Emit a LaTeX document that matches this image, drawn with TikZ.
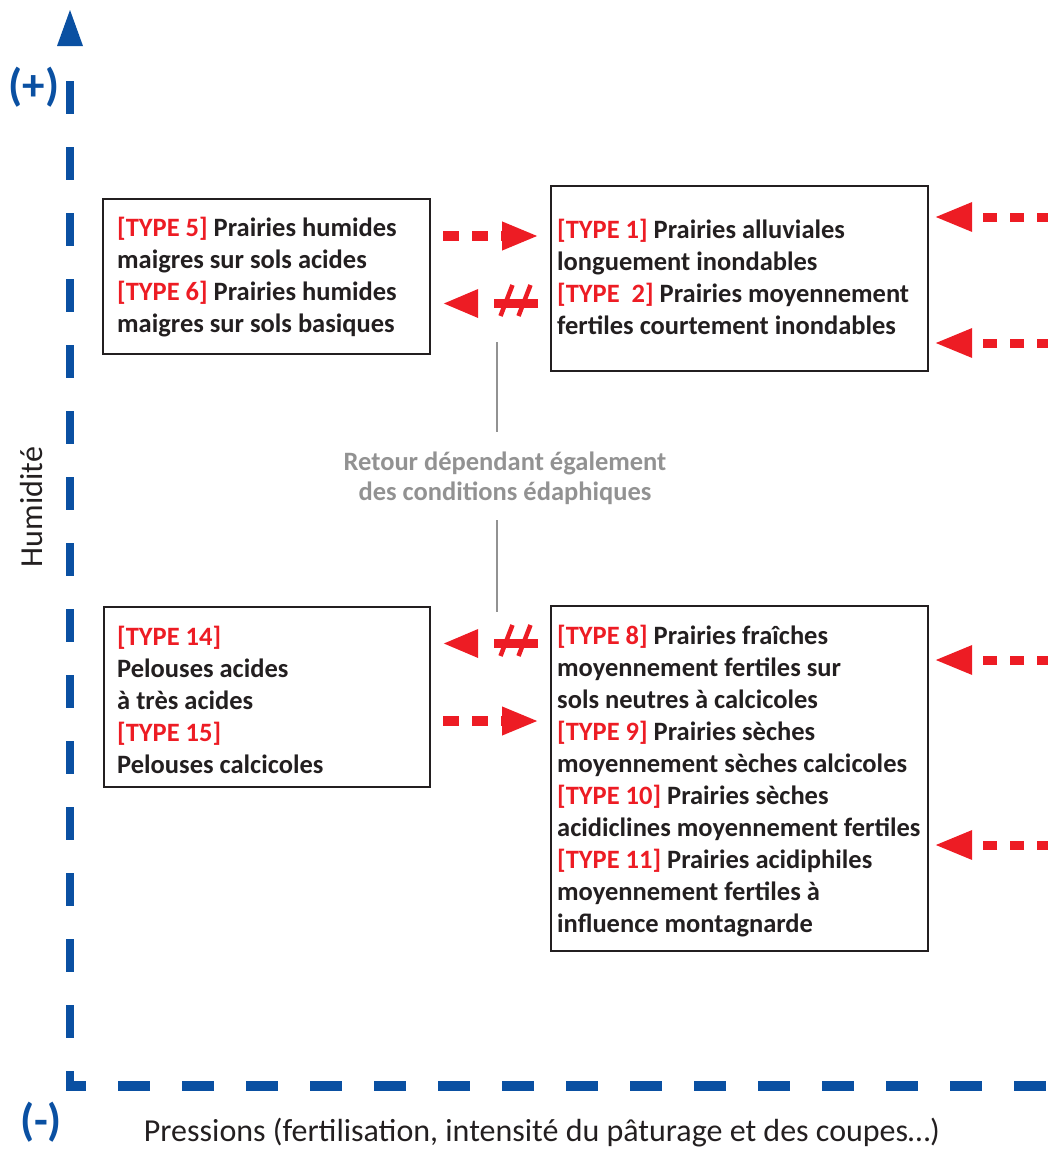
\documentclass[tikz,border=0pt]{standalone}
\usepackage{fontspec}
\setmainfont{Carlito}
\usetikzlibrary{arrows.meta,calc}

\definecolor{redc}{RGB}{237,28,36}
\definecolor{bluec}{RGB}{10,80,162}
\definecolor{txtc}{RGB}{35,31,32}
\definecolor{grayc}{RGB}{146,146,146}

\newcommand\typelbl[1]{\textcolor{redc}{#1}}

\begin{document}
\begin{tikzpicture}[x=1pt,y=-1pt,
  box/.style={draw=txtc, line width=2.2pt, anchor=north west, inner sep=0pt},
  txtblk/.style={anchor=west, align=left, inner sep=0pt, text=txtc,
    font=\bfseries\fontsize{26.5}{32}\selectfont},
  fwdarrow/.style={draw=redc, line width=10pt, dash pattern=on 16pt off 13pt,
    -{Triangle[length=37pt,width=26pt]}, shorten <=12pt, shorten >=11pt},
  brokenarrow/.style={draw=redc, line width=9.5pt, dash pattern=on 44pt off 300pt,
    -{Triangle[length=36pt,width=26pt]}, shorten <=12pt, shorten >=11pt},
  slashmark/.style={draw=redc, line width=4.5pt},
  sidearrow/.style={draw=redc, line width=9pt, dash pattern=on 14pt off 13pt,
    -{Triangle[length=38pt,width=27pt]}, shorten >=5pt},
  grayline/.style={draw=grayc, line width=2.6pt},
  axisline/.style={draw=bluec},
  signlbl/.style={text=bluec, font=\bfseries\fontsize{45}{48}\selectfont, inner sep=0pt},
  axislbl/.style={text=txtc, font=\fontsize{32}{36}\selectfont, inner sep=0pt},
  notelbl/.style={text=grayc, align=center, inner sep=0pt,
    font=\bfseries\fontsize{26.5}{30}\selectfont}
]
\useasboundingbox (0,0) rectangle (1048,1149);

% axes
\draw[axisline, line width=8pt, dash pattern=on 33pt off 33pt] (70,81) -- (70,1091);
\draw[axisline, line width=10pt, dash pattern=on 32pt off 32pt, dash phase=12pt] (66,1085.5) -- (1052,1085.5);
\fill[bluec] (70,10) -- (83,46) -- (57,46) -- cycle;
\node[signlbl] (plus) at (34,87) {(+)};
\node[signlbl] (minus) at (41,1122) {(-)};
\node[axislbl, rotate=90] (hum) at (32,507) {Humidité};
\node[axislbl] (press) at (542,1133) {Pressions (fertilisation, intensité du pâturage et des coupes…)};

% boxes
\node[box, minimum width=327pt, minimum height=155pt] (b1) at (102,198) {};
\node[box, minimum width=377pt, minimum height=185pt] (b2) at (550,185) {};
\node[box, minimum width=326pt, minimum height=180pt] (b3) at (103,606) {};
\node[box, minimum width=377pt, minimum height=345pt] (b4) at (550,605) {};

% box contents
\node[txtblk] (t1) at ($(b1.west)+(15,0)$) {\typelbl{[TYPE 5]} Prairies humides\\maigres sur sols acides\\\typelbl{[TYPE 6]} Prairies humides\\maigres sur sols basiques};
\node[txtblk] (t2) at ($(b2.west)+(7,-2)$) {\typelbl{[TYPE 1]} Prairies alluviales\\longuement inondables\\\typelbl{[TYPE\ \ 2]} Prairies moyennement\\fertiles courtement inondables};
\node[txtblk] (t3) at ($(b3.west)+(14,3)$) {\typelbl{[TYPE 14]}\\Pelouses acides\\à très acides\\\typelbl{[TYPE 15]}\\Pelouses calcicoles};
\node[txtblk] (t4) at ($(b4.west)+(7,2)$) {\typelbl{[TYPE 8]} Prairies fraîches\\moyennement fertiles sur\\sols neutres à calcicoles\\\typelbl{[TYPE 9]} Prairies sèches\\moyennement sèches calcicoles\\\typelbl{[TYPE 10]} Prairies sèches\\acidiclines moyennement fertiles\\\typelbl{[TYPE 11]} Prairies acidiphiles\\moyennement fertiles à\\influence montagnarde};

% arrows between the upper boxes
\draw[fwdarrow] (b1.east |- 0,236) -- (b2.west |- 0,236);
\draw[brokenarrow] (b2.west |- 0,303.5) -- (b1.east |- 0,303.5);
\coordinate (m1) at (514.5,301);
\draw[slashmark] ($(m1)+(-14,15)$) -- ($(m1)+(-2,-16)$);
\draw[slashmark] ($(m1)+(4,15)$) -- ($(m1)+(16,-16)$);

% arrows between the lower boxes
\draw[brokenarrow] (b4.west |- 0,643.5) -- (b3.east |- 0,643.5);
\coordinate (m2) at (514.5,641);
\draw[slashmark] ($(m2)+(-14,15)$) -- ($(m2)+(-2,-16)$);
\draw[slashmark] ($(m2)+(4,15)$) -- ($(m2)+(16,-16)$);
\draw[fwdarrow] (b3.east |- 0,721) -- (b4.west |- 0,721);

% incoming arrows from the right
\coordinate (r1) at (1051,217);
\coordinate (r2) at (1051,343);
\coordinate (r3) at (1051,660);
\coordinate (r4) at (1051,845);
\draw[sidearrow] (r1) -- (b2.east |- r1);
\draw[sidearrow] (r2) -- (b2.east |- r2);
\draw[sidearrow] (r3) -- (b4.east |- r3);
\draw[sidearrow] (r4) -- (b4.east |- r4);

% note on the return path
\node[notelbl] (note) at (505,478) {Retour dépendant également\\des conditions édaphiques};
\coordinate (g1) at (497,342);
\coordinate (g2) at (497,432);
\coordinate (g3) at (497,520);
\coordinate (g4) at (497,612);
\draw[grayline] (g1) -- (g2);
\draw[grayline] (g3) -- (g4);
\end{tikzpicture}
\end{document}
